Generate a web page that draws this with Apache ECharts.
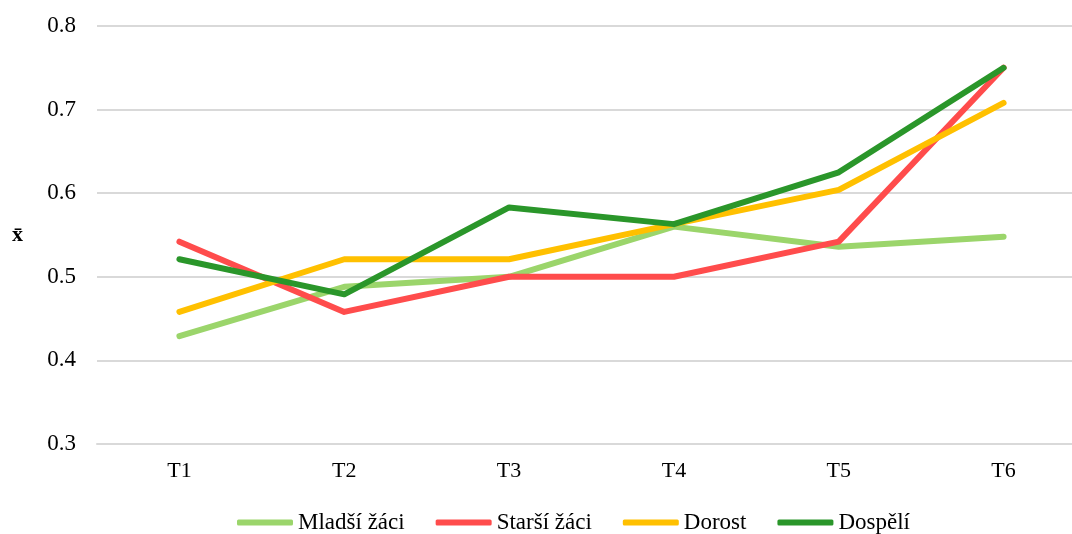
<!DOCTYPE html>
<html>
<head>
<meta charset="utf-8">
<script src="https://cdn.jsdelivr.net/npm/echarts@6/dist/echarts.min.js"></script>
<style>
html,body{margin:0;padding:0;background:#fff;overflow:hidden;width:1072px;height:534px;}
#c{width:1090px;height:534px;}
</style>
</head>
<body>
<div id="c"></div>
<script>
const categories = ['T1','T2','T3','T4','T5','T6'];
const seriesNames = ['Mladší žáci','Starší žáci','Dorost','Dospělí'];
const mladsiZaci = [0.429, 0.488, 0.500, 0.560, 0.536, 0.548];
const starsiZaci = [0.542, 0.458, 0.500, 0.500, 0.542, 0.750];
const dorost     = [0.458, 0.521, 0.521, 0.563, 0.604, 0.708];
const dospeli    = [0.521, 0.479, 0.583, 0.563, 0.625, 0.750];
const yTicks = [0.3, 0.4, 0.5, 0.6, 0.7, 0.8];
const colors = ['#9BD56B','#FF4C4C','#FFC000','#2A962A'];

const chart = echarts.init(document.getElementById('c'), null, {renderer:'canvas'});
const fontFam = '"Liberation Serif","Times New Roman",serif';
const dataSets = [mladsiZaci, starsiZaci, dorost, dospeli];
chart.setOption({
  animation:false,
  backgroundColor:'#fff',
  color: colors,
  grid:{left:97, top:26, width:989, height:418, containLabel:false},
  legend:{
    top: 511,
    left: 237,
    padding: 0,
    data: seriesNames,
    icon: 'roundRect',
    itemWidth: 56,
    itemHeight: 6,
    itemGap: 31,
    textStyle:{fontFamily:fontFam, fontSize:23, color:'#000'}
  },
  xAxis:{
    type:'category',
    data: categories,
    boundaryGap:true,
    axisLine:{show:true, lineStyle:{color:'#D9D9D9', width:2}},
    axisTick:{show:false},
    axisLabel:{fontFamily:fontFam, fontSize:22, color:'#000', margin:16}
  },
  yAxis:{
    type:'value',
    min: yTicks[0],
    max: yTicks[yTicks.length-1],
    interval: 0.1,
    name:'x̄',
    nameLocation:'middle',
    nameRotate:0,
    nameGap:74,
    nameTextStyle:{fontFamily:fontFam, fontSize:22, fontWeight:'bold', color:'#000'},
    axisLine:{show:false},
    axisTick:{show:false},
    splitLine:{lineStyle:{color:'#D9D9D9', width:2}},
    axisLabel:{fontFamily:fontFam, fontSize:23, color:'#000', margin:21,
      formatter: v => (Math.round(v*10)/10).toFixed(1)}
  },
  series: seriesNames.map((n,i)=>({
    name:n,
    type:'line',
    data: dataSets[i],
    symbol:'none',
    lineStyle:{width:6, cap:'round', join:'round', color:colors[i]},
    itemStyle:{color:colors[i]}
  }))
});
</script>
</body>
</html>
